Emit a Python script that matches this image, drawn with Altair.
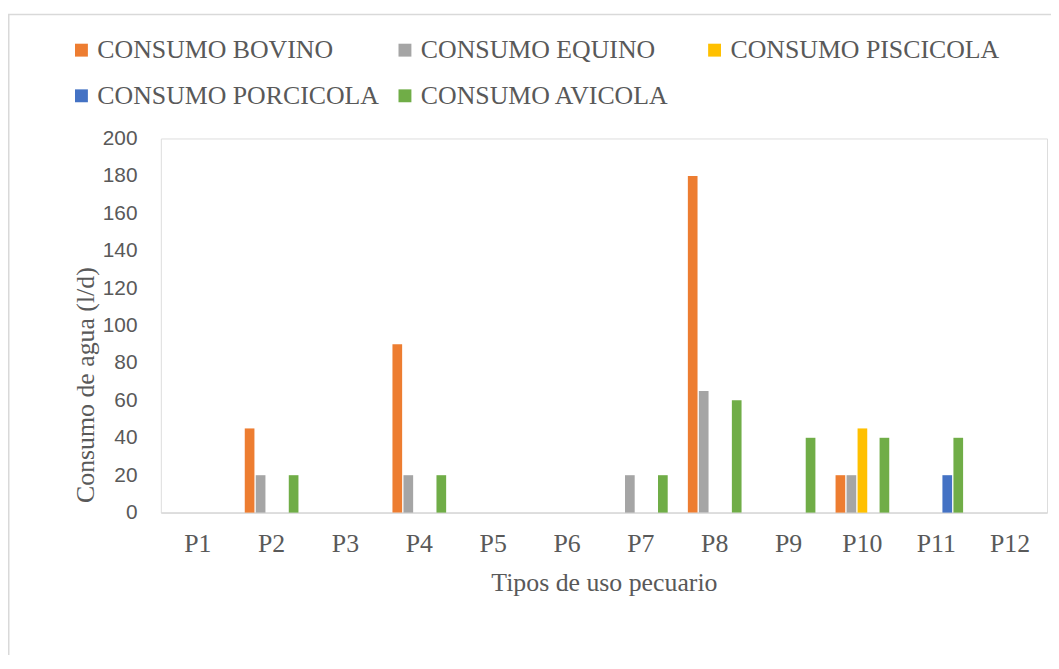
import altair as alt
import pandas as pd

categorias = ["P1", "P2", "P3", "P4", "P5", "P6", "P7", "P8", "P9", "P10", "P11", "P12"]
series = ["CONSUMO BOVINO", "CONSUMO EQUINO", "CONSUMO PISCICOLA", "CONSUMO PORCICOLA", "CONSUMO AVICOLA"]
colores = ["#ED7D31", "#A5A5A5", "#FFC000", "#4472C4", "#70AD47"]

bovino = [0, 45, 0, 90, 0, 0, 0, 180, 0, 20, 0, 0]
equino = [0, 20, 0, 20, 0, 0, 20, 65, 0, 20, 0, 0]
piscicola = [0, 0, 0, 0, 0, 0, 0, 0, 0, 45, 0, 0]
porcicola = [0, 0, 0, 0, 0, 0, 0, 0, 0, 0, 20, 0]
avicola = [0, 20, 0, 20, 0, 0, 20, 60, 40, 40, 40, 0]

valores = [bovino, equino, piscicola, porcicola, avicola]
rows = []
for s, vals in zip(series, valores):
    for c, v in zip(categorias, vals):
        rows.append({"cat": c, "serie": s, "valor": v})
df = pd.DataFrame(rows)

SERIF = "Liberation Serif"
SANS = "Liberation Sans"
TXT = "#595959"

# legend columns (as in the reference): each column is its own legend
columnas = [
    (["CONSUMO BOVINO", "CONSUMO PORCICOLA"], -93),
    (["CONSUMO EQUINO", "CONSUMO AVICOLA"], 233),
    (["CONSUMO PISCICOLA"], 545),
]


def bar_layer(sub_series, legend_x):
    sub = df[df["serie"].isin(sub_series)]
    rng = [colores[series.index(s)] for s in sub_series]
    return alt.Chart(sub).mark_bar().encode(
        x=alt.X(
            "cat:N",
            sort=categorias,
            scale=alt.Scale(domain=categorias, paddingInner=0.255, paddingOuter=0.1275),
            axis=alt.Axis(
                title="Tipos de uso pecuario",
                labelAngle=0,
                labelFont=SERIF,
                labelFontSize=26,
                labelColor=TXT,
                labelPadding=18,
                ticks=False,
                tickSize=0,
                domainColor="#D9D9D9",
                domainWidth=1.5,
                titleFont=SERIF,
                titleFontSize=26,
                titleFontWeight="normal",
                titleColor=TXT,
                titlePadding=13,
                grid=False,
            ),
        ),
        xOffset=alt.XOffset(
            "serie:N", sort=series, scale=alt.Scale(domain=series, paddingInner=0.12, paddingOuter=0.06)
        ),
        y=alt.Y(
            "valor:Q",
            scale=alt.Scale(domain=[0, 200], nice=False),
            axis=alt.Axis(
                title="Consumo de agua (l/d)",
                values=list(range(0, 201, 20)),
                labelFont=SANS,
                labelFontSize=21,
                labelColor=TXT,
                labelPadding=24,
                ticks=False,
                tickSize=0,
                domain=False,
                grid=False,
                titleFont=SERIF,
                titleFontSize=26,
                titleFontWeight="normal",
                titleColor=TXT,
                titlePadding=4,
                titleY=248,
                titleAlign="center",
            ),
        ),
        color=alt.Color(
            "serie:N",
            sort=sub_series,
            scale=alt.Scale(domain=sub_series, range=rng),
            title=None,
            legend=alt.Legend(
                orient="none",
                legendX=legend_x,
                legendY=-102,
                direction="vertical",
                symbolType="square",
                symbolSize=169,
                symbolStrokeWidth=0,
                labelFont=SERIF,
                labelFontSize=26,
                labelColor=TXT,
                labelOffset=3,
                labelLimit=400,
                rowPadding=20,
                padding=0,
            ),
        ),
    )


border = alt.Chart(pd.DataFrame({"k": [0]})).mark_rect(
    fillOpacity=0, stroke="#D9D9D9", strokeWidth=1.5
).encode(
    x=alt.value(-153.25), x2=alt.value(2000), y=alt.value(-125), y2=alt.value(2000)
)

layers = [border] + [bar_layer(s, lx) for s, lx in columnas]

chart = (
    alt.layer(*layers)
    .resolve_scale(color="independent")
    .properties(
        width=893,
        height=377,
        autosize=alt.AutoSizeParams(type="none"),
        padding={"left": 154, "top": 129, "right": 4, "bottom": 141},
    )
    .configure_view(stroke=None)
    .configure(background="white")
)

chart.save("out.html", embed_options={"renderer": "svg", "actions": False})
